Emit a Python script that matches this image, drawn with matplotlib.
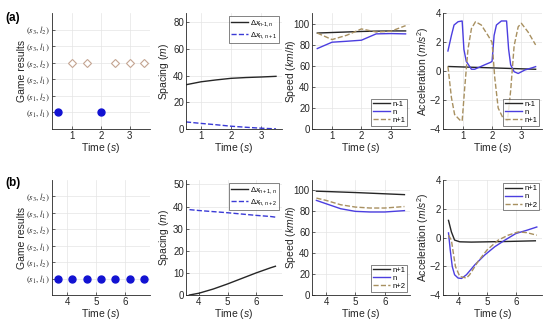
import numpy as np
import matplotlib.pyplot as plt

plt.rcParams["font.family"] = ["Liberation Sans", "DejaVu Sans"]
plt.rcParams["mathtext.fontset"] = "custom"
plt.rcParams["mathtext.rm"] = "Liberation Sans"
plt.rcParams["mathtext.it"] = "Liberation Sans:italic"
plt.rcParams["mathtext.bf"] = "Liberation Sans:bold"

INK = "#262626"
BLACK = "#262626"
BLUE = "#4b3ee0"
TAN = "#a89060"
DASH_BLUE = "#3a3ad6"
DOT_BLUE = "#1212d2"
DIAMOND = "#c4a592"

GAME_LABELS = [r"$(s_1,l_1)$", r"$(s_1,l_2)$", r"$(s_2,l_1)$",
               r"$(s_2,l_2)$", r"$(s_3,l_1)$", r"$(s_3,l_2)$"]

# ---------------- scenario (a) ----------------
a_dot_t = [0.5, 2.0]
a_dot_y = [1, 1]
a_dia_t = [1.0, 1.5, 2.5, 3.0, 3.5]
a_dia_y = [4, 4, 4, 4, 4]

a_sp_t = [0.5, 1.0, 1.5, 2.0, 2.5, 3.0, 3.5]
a_sp_prev = [33.2, 35.4, 36.8, 38.0, 38.6, 39.0, 39.5]
a_sp_next = [5.3, 4.2, 3.2, 2.1, 1.3, 0.6, 0.1]

a_v_t = [0.5, 1.0, 1.5, 2.0, 2.5, 3.0, 3.5]
a_v_prev = [91.0, 91.5, 92.0, 92.5, 92.8, 93.0, 93.0]
a_v_n = [76.3, 82.3, 83.2, 84.2, 90.2, 90.5, 90.2]
a_v_next = [91.0, 84.8, 88.9, 94.9, 92.0, 92.7, 98.0]

a_acc_prev_t = [0.5, 3.5]
a_acc_prev = [0.31, 0.12]
a_acc_n_t = [0.48, 0.6, 0.69, 0.83, 0.97, 1.03, 1.11, 1.29, 1.4, 1.75, 1.95, 2.0,
             2.07, 2.15, 2.32, 2.5, 2.57, 2.64, 2.76, 2.9, 3.13, 3.41, 3.5]
a_acc_n = [1.38, 2.45, 3.17, 3.4, 3.45, 1.5, 0.67, 0.12, 0.12, 0.43, 0.6, 0.67,
           2.45, 3.17, 3.45, 3.45, 1.5, 0.43, -0.05, -0.17, 0.07, 0.24, 0.3]
a_acc_next_t = [0.48, 0.6, 0.71, 0.89, 0.97, 1.06, 1.17, 1.29, 1.43, 1.63, 1.86,
                2.0, 2.09, 2.21, 2.38, 2.53, 2.64, 2.76, 2.9, 3.01, 3.24, 3.5]
a_acc_next = [0.31, -1.83, -3.0, -3.38, -3.45, -1.1, 1.5, 2.93, 3.4, 3.17, 2.45,
              1.98, -0.4, -2.55, -3.26, -3.43, -1.36, 1.74, 3.05, 3.29, 2.69, 1.8]

# ---------------- scenario (b) ----------------
b_dot_t = [3.67, 4.17, 4.67, 5.17, 5.67, 6.17, 6.67]
b_dot_y = [1, 1, 1, 1, 1, 1, 1]

b_sp_t = [3.67, 4.0, 4.5, 5.0, 5.5, 6.0, 6.5, 6.67]
b_sp_lead = [0.0, 0.8, 2.7, 5.0, 7.5, 10.0, 12.3, 13.0]
b_sp_next = [38.6, 38.2, 37.7, 37.2, 36.6, 36.0, 35.5, 35.2]

b_v_t = [3.67, 4.0, 4.5, 5.0, 5.5, 6.0, 6.67]
b_v_lead = [99.3, 99.0, 98.5, 98.0, 97.4, 96.8, 96.0]
b_v_n = [90.5, 87.3, 82.5, 80.0, 79.4, 79.4, 80.7]
b_v_next = [92.7, 90.5, 86.3, 84.1, 83.2, 83.2, 84.6]

b_acc_lead_t = [3.67, 3.77, 3.88, 4.06, 4.46, 5.62, 6.67]
b_acc_lead = [1.19, 0.39, -0.18, -0.3, -0.32, -0.28, -0.23]
b_acc_n_t = [3.67, 3.73, 3.8, 3.88, 4.0, 4.12, 4.29, 4.58, 4.92, 5.27, 5.62,
             6.0, 6.37, 6.72]
b_acc_n = [0.32, -0.87, -2.02, -2.59, -2.82, -2.85, -2.59, -1.9, -1.22, -0.64,
           -0.18, 0.28, 0.5, 0.73]
b_acc_next_t = [3.67, 3.77, 3.83, 3.91, 4.06, 4.29, 4.4, 4.69, 5.0, 5.39, 5.73,
                6.08, 6.37, 6.72]
b_acc_next = [0.16, -0.18, -0.99, -2.02, -2.71, -2.82, -2.59, -1.67, -0.87,
              -0.18, 0.16, 0.39, 0.34, 0.16]

W, H = 550, 323
fig = plt.figure(figsize=(5.5, 3.23), dpi=100)

cols = [(52, 150), (186, 282), (312, 410), (443, 542)]
rows = [(13, 129), (180, 295)]
# pixel x of each column's y-label centre
ylab_x = [22, 164, 291, 423]


def make_ax(r, c):
    x0, x1 = cols[c]
    y0, y1 = rows[r]
    ax = fig.add_axes([x0 / W, 1 - y1 / H, (x1 - x0) / W, (y1 - y0) / H])
    for s in ["top", "right"]:
        ax.spines[s].set_visible(False)
    for s in ["left", "bottom"]:
        ax.spines[s].set_color(INK)
        ax.spines[s].set_linewidth(0.6)
    ax.grid(True, color="#e4e4e4", lw=0.5)
    ax.set_axisbelow(True)
    ax.tick_params(direction="in", length=2, width=0.5, labelsize=7,
                   colors=INK, pad=1.5)
    ax.set_xlabel(r"Time ($s$)", fontsize=7.5, color=INK, labelpad=0)
    ax.yaxis.set_label_coords((ylab_x[c] - x0) / (x1 - x0), 0.5)
    return ax


def ylabel(ax, text):
    ax.set_ylabel(text, fontsize=7.5, color=INK, va="center")


def legend(ax, loc):
    lg = ax.legend(loc=loc, fontsize=5.5, frameon=True, fancybox=False,
                   borderpad=0.25, labelspacing=0.1, handlelength=2.2,
                   handletextpad=0.3, borderaxespad=0.4)
    lg.get_frame().set_edgecolor(INK)
    lg.get_frame().set_linewidth(0.5)
    return lg


def game_panel(ax, xlim, xticks):
    ax.set_ylim(0, 7)
    ax.set_yticks(range(1, 7))
    ax.set_yticklabels(GAME_LABELS, math_fontfamily="stix", fontsize=6.3)
    ax.set_xlim(*xlim)
    ax.set_xticks(xticks)
    ylabel(ax, "Game results")


# ---- row (a) ----
ax = make_ax(0, 0)
ax.plot(a_dot_t, a_dot_y, "o", color=DOT_BLUE, ms=5, ls="none")
ax.plot(a_dia_t, a_dia_y, "D", mfc="white", mec=DIAMOND, ms=4.3, mew=0.8, ls="none")
game_panel(ax, (0.3, 3.7), [1, 2, 3])

ax = make_ax(0, 1)
ax.plot(a_sp_t, a_sp_prev, color=BLACK, lw=1, label=r"Δ$x_{n\text{-}1,n}$")
ax.plot(a_sp_t, a_sp_next, "--", color=DASH_BLUE, lw=1, label=r"Δ$x_{n,n+1}$")
ax.set_xlim(0.5, 3.7)
ax.set_xticks([1, 2, 3])
ax.set_ylim(0, 87)
ax.set_yticks([0, 20, 40, 60, 80])
ylabel(ax, r"Spacing ($m$)")
legend(ax, "upper right")

ax = make_ax(0, 2)
ax.plot(a_v_t, a_v_prev, color=BLACK, lw=1, label="n-1")
ax.plot(a_v_t, a_v_n, color=BLUE, lw=1, label="n")
ax.plot(a_v_t, a_v_next, "--", color=TAN, lw=1, label="n+1")
ax.set_xlim(0.32, 3.65)
ax.set_xticks([1, 2, 3])
ax.set_ylim(0, 110)
ax.set_yticks([0, 20, 40, 60, 80, 100])
ylabel(ax, r"Speed ($km/h$)")
legend(ax, "lower right")

ax = make_ax(0, 3)
ax.plot(a_acc_prev_t, a_acc_prev, color=BLACK, lw=1, label="n-1")
ax.plot(a_acc_n_t, a_acc_n, color=BLUE, lw=1, label="n")
ax.plot(a_acc_next_t, a_acc_next, "--", color=TAN, lw=1, label="n+1")
ax.set_xlim(0.31, 3.72)
ax.set_xticks([1, 2, 3])
ax.set_ylim(-4, 4)
ax.set_yticks([-4, -2, 0, 2, 4])
ylabel(ax, r"Acceleration ($m/s^2$)")
legend(ax, "lower right")

# ---- row (b) ----
ax = make_ax(1, 0)
ax.plot(b_dot_t, b_dot_y, "o", color=DOT_BLUE, ms=5, ls="none")
game_panel(ax, (3.48, 6.86), [4, 5, 6])

ax = make_ax(1, 1)
ax.plot(b_sp_t, b_sp_lead, color=BLACK, lw=1, label=r"Δ$x_{n+1,n}$")
ax.plot(b_sp_t, b_sp_next, "--", color=DASH_BLUE, lw=1, label=r"Δ$x_{n,n+2}$")
ax.set_xlim(3.55, 6.9)
ax.set_xticks([4, 5, 6])
ax.set_ylim(0, 52)
ax.set_yticks([0, 10, 20, 30, 40, 50])
ylabel(ax, r"Spacing ($m$)")
legend(ax, "upper right")

ax = make_ax(1, 2)
ax.plot(b_v_t, b_v_lead, color=BLACK, lw=1, label="n+1")
ax.plot(b_v_t, b_v_n, color=BLUE, lw=1, label="n")
ax.plot(b_v_t, b_v_next, "--", color=TAN, lw=1, label="n+2")
ax.set_xlim(3.52, 6.86)
ax.set_xticks([4, 5, 6])
ax.set_ylim(0, 110)
ax.set_yticks([0, 20, 40, 60, 80, 100])
ylabel(ax, r"Speed ($km/h$)")
legend(ax, "lower right")

ax = make_ax(1, 3)
ax.plot(b_acc_lead_t, b_acc_lead, color=BLACK, lw=1, label="n+1")
ax.plot(b_acc_n_t, b_acc_n, color=BLUE, lw=1, label="n")
ax.plot(b_acc_next_t, b_acc_next, "--", color=TAN, lw=1, label="n+2")
ax.set_xlim(3.48, 6.9)
ax.set_xticks([4, 5, 6])
ax.set_ylim(-4, 4)
ax.set_yticks([-4, -2, 0, 2, 4])
ylabel(ax, r"Acceleration ($m/s^2$)")
legend(ax, "upper right")

fig.text(13 / W, 1 - 18 / H, "(a)", fontsize=8.5, fontweight="bold",
         ha="center", va="center", color="black")
fig.text(13 / W, 1 - 183 / H, "(b)", fontsize=8.5, fontweight="bold",
         ha="center", va="center", color="black")

fig.savefig("out.png", dpi=100)
